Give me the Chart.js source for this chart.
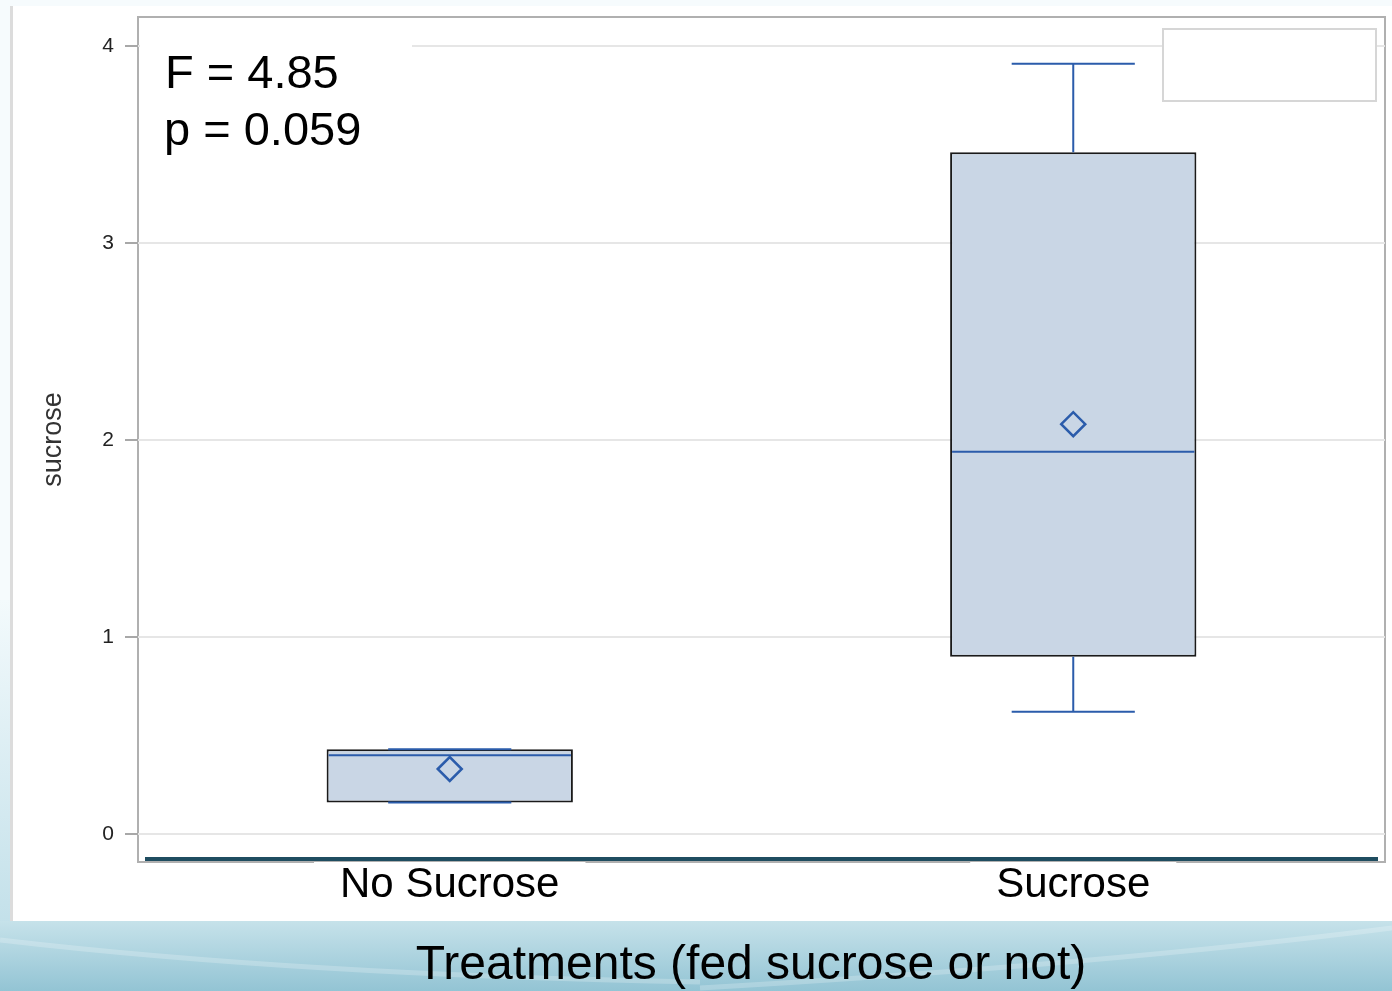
<!DOCTYPE html>
<html>
<head>
<meta charset="utf-8">
<script src="https://cdn.jsdelivr.net/npm/chart.js@4.4.1/dist/chart.umd.min.js"></script>
<style>
  html, body { margin: 0; padding: 0; background: #fff; }
  #wrap { width: 1392px; height: 991px; }
</style>
</head>
<body>
<div id="wrap"><canvas id="grafico" width="1392" height="991"></canvas></div>
<script>
// valores
const categorias = ['No Sucrose', 'Sucrose'];
const q1 = [0.16, 0.90];
const q3 = [0.43, 3.46];
const medianas = [0.40, 1.94];
const medias = [0.33, 2.08];
const bigodeMin = [0.16, 0.62];
const bigodeMax = [0.43, 3.91];
const ticksY = [0, 1, 2, 3, 4];
const estatisticas = ['F = 4.85', 'p = 0.059'];
const tituloX = 'Treatments (fed sucrose or not)';

const azul = '#2b5cab';
const fonte = '"Liberation Sans", Arial, sans-serif';

// fundo do slide, moldura, caixa de texto e linha escura
const fundo = {
    id: 'fundo',
    beforeDraw(chart) {
        const { ctx, chartArea: a, width, height } = chart;
        ctx.save();
        ctx.fillStyle = '#f6fbfd';
        ctx.fillRect(0, 0, width, height);
        const gl = ctx.createLinearGradient(0, 600, 0, 991);
        gl.addColorStop(0, '#f3fafc');
        gl.addColorStop(1, '#b9dbe6');
        ctx.fillStyle = gl;
        ctx.fillRect(0, 600, 12, 391);
        ctx.fillStyle = '#ffffff';
        ctx.fillRect(12, 6, width - 12, 915);
        ctx.fillStyle = '#dcdcdc';
        ctx.fillRect(10, 6, 3, 915);
        const gb = ctx.createLinearGradient(0, 921, 0, 991);
        gb.addColorStop(0, '#c6e2ea');
        gb.addColorStop(1, '#93c4d4');
        ctx.fillStyle = gb;
        ctx.fillRect(0, 921, width, 70);
        ctx.strokeStyle = 'rgba(255,255,255,0.22)';
        ctx.lineWidth = 5;
        ctx.beginPath();
        ctx.moveTo(0, 940);
        ctx.quadraticCurveTo(300, 975, 700, 982);
        ctx.stroke();
        ctx.beginPath();
        ctx.moveTo(700, 988);
        ctx.quadraticCurveTo(1100, 965, 1392, 928);
        ctx.stroke();
        // moldura do gráfico
        ctx.strokeStyle = '#b0b0b0';
        ctx.lineWidth = 2;
        ctx.strokeRect(a.left, a.top, a.right - a.left, a.bottom - a.top);
        ctx.restore();
    },
    afterDatasetsDraw(chart) {
        const { ctx, chartArea: a } = chart;
        ctx.save();
        // caixa das estatísticas
        ctx.fillStyle = '#ffffff';
        ctx.fillRect(a.left + 2, a.top + 2, 272, 150);
        ctx.fillStyle = '#000';
        ctx.font = '47px ' + fonte;
        ctx.textBaseline = 'alphabetic';
        ctx.fillText(estatisticas[0], a.left + 27, 88);
        ctx.fillText(estatisticas[1], a.left + 26, 145);
        // legenda vazia
        ctx.fillStyle = '#ffffff';
        ctx.fillRect(1163, 29, 213, 72);
        ctx.strokeStyle = '#d6d6d6';
        ctx.lineWidth = 2;
        ctx.strokeRect(1163, 29, 213, 72);
        ctx.restore();
    },
    afterDraw(chart) {
        const { ctx, chartArea: a } = chart;
        ctx.save();
        ctx.fillStyle = '#1f4d60';
        ctx.fillRect(a.left + 7, a.bottom - 5, a.right - a.left - 14, 4);
        // título do eixo x
        ctx.fillStyle = '#000';
        ctx.font = '48px ' + fonte;
        ctx.textAlign = 'center';
        ctx.textBaseline = 'middle';
        ctx.fillText(tituloX, 751, 966);
        ctx.restore();
    }
};

// bigodes, mediana e extremos via escalas
const bigodes = {
    id: 'bigodes',
    afterDatasetsDraw(chart) {
        const { ctx } = chart;
        const x = chart.scales.x;
        const y = chart.scales.y;
        const meta = chart.getDatasetMeta(0);
        ctx.save();
        ctx.strokeStyle = azul;
        ctx.lineWidth = 2;
        categorias.forEach((c, i) => {
            const bar = meta.data[i];
            const cx = x.getPixelForValue(i);
            const w = bar.width;
            const capa = w / 4;
            ctx.beginPath();
            // mediana
            ctx.moveTo(cx - w / 2 + 2, y.getPixelForValue(medianas[i]));
            ctx.lineTo(cx + w / 2 - 2, y.getPixelForValue(medianas[i]));
            // bigode superior
            ctx.moveTo(cx, y.getPixelForValue(q3[i]));
            ctx.lineTo(cx, y.getPixelForValue(bigodeMax[i]));
            ctx.moveTo(cx - capa, y.getPixelForValue(bigodeMax[i]));
            ctx.lineTo(cx + capa, y.getPixelForValue(bigodeMax[i]));
            // bigode inferior
            ctx.moveTo(cx, y.getPixelForValue(q1[i]));
            ctx.lineTo(cx, y.getPixelForValue(bigodeMin[i]));
            ctx.moveTo(cx - capa, y.getPixelForValue(bigodeMin[i]));
            ctx.lineTo(cx + capa, y.getPixelForValue(bigodeMin[i]));
            ctx.stroke();
        });
        ctx.restore();
    }
};

const ctx = document.getElementById('grafico').getContext('2d');

new Chart(ctx, {
    type: 'bar',
    data: {
        labels: categorias,
        datasets: [{
            label: 'caixa',
            data: q1.map((v, i) => [v, q3[i]]),
            backgroundColor: '#c9d6e5',
            borderColor: '#1a1a1a',
            borderWidth: 2,
            borderSkipped: false,
            barPercentage: 0.395,
            categoryPercentage: 1,
            order: 2
        }, {
            type: 'line',
            label: 'média',
            data: medias,
            showLine: false,
            pointStyle: 'rectRot',
            pointRadius: 12,
            pointBorderWidth: 2.5,
            pointBorderColor: azul,
            pointBackgroundColor: 'rgba(0,0,0,0)',
            clip: false,
            order: 1
        }]
    },
    options: {
        responsive: false,
        animation: false,
        layout: { autoPadding: false, padding: { top: 17, right: 7, left: 0, bottom: 0 } },
        plugins: {
            legend: { display: false },
            tooltip: { enabled: false }
        },
        scales: {
            x: {
                afterFit: s => { s.height = 129; s.paddingLeft = 0; s.paddingRight = 0; },
                grid: { display: false, drawTicks: false },
                border: { display: false },
                ticks: {
                    color: '#000',
                    padding: 2,
                    font: { family: fonte, size: 42, lineHeight: 1 },
                    showLabelBackdrop: true,
                    backdropColor: '#ffffff',
                    backdropPadding: { x: 26, y: 5 }
                }
            },
            y: {
                min: -0.142,
                max: 4.147,
                afterFit: s => { s.width = 138; s.paddingTop = 0; s.paddingBottom = 0; },
                afterBuildTicks: s => { s.ticks = ticksY.map(v => ({ value: v })); },
                grid: { color: '#e6e6e6', lineWidth: 2, tickLength: 13, tickColor: '#a8a8a8' },
                border: { display: false },
                ticks: {
                    color: '#222',
                    padding: 11,
                    font: { family: fonte, size: 21 }
                },
                title: {
                    display: true,
                    text: 'sucrose',
                    color: '#333',
                    font: { family: fonte, size: 27, lineHeight: 1 },
                    padding: { top: 40, bottom: 0 }
                }
            }
        }
    },
    plugins: [fundo, bigodes]
});
</script>
</body>
</html>
